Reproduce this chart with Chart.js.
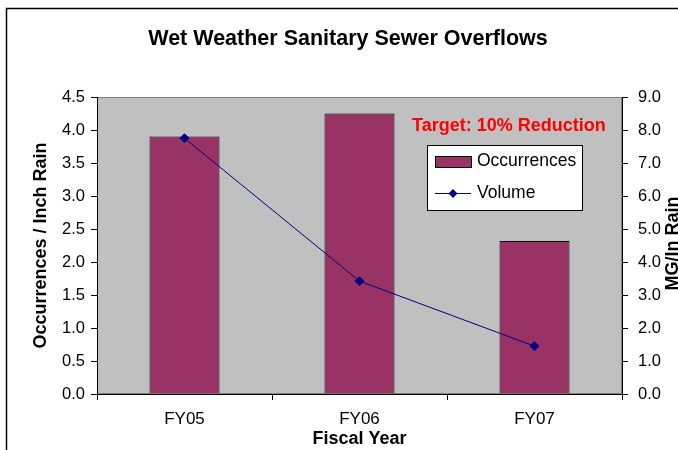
<!DOCTYPE html>
<html>
<head>
<meta charset="utf-8">
<script src="https://cdn.jsdelivr.net/npm/chart.js@4"></script>
<style>
  html, body { margin: 0; padding: 0; background: #fff; overflow: hidden; }
  #wrap { width: 678px; height: 450px; }
</style>
</head>
<body>
<div id="wrap"><canvas id="ssoChart" width="678" height="450"></canvas></div>
<script>
// values
const categories = ["FY05", "FY06", "FY07"];
const occurrences = [3.9, 4.25, 2.32];   // left axis, occurrences / inch rain
const volume = [7.75, 3.42, 1.45];       // right axis, MG / in rain

const chartTitle = "Wet Weather Sanitary Sewer Overflows";
const FONT = "'Liberation Sans', Arial, sans-serif";

// gray plot area + outer frame, title, legend and the red note
const decor = {
  id: "decor",
  beforeDraw(chart) {
    const { ctx, chartArea: a } = chart;
    ctx.save();
    ctx.fillStyle = "#fff";
    ctx.fillRect(0, 0, chart.width, chart.height);
    ctx.strokeStyle = "#000";
    ctx.lineWidth = 1.5;
    ctx.strokeRect(6.5, 8.5, chart.width + 20, chart.height + 20);
    ctx.fillStyle = "#C0C0C0";
    ctx.fillRect(a.left, a.top, a.right - a.left, a.bottom - a.top);
    ctx.strokeStyle = "#808080";
    ctx.lineWidth = 1;
    ctx.strokeRect(a.left + 0.5, a.top + 0.5, a.right - a.left - 1, a.bottom - a.top - 1);
    ctx.restore();
  },
  afterDraw(chart) {
    const { ctx, chartArea: a } = chart;
    const y1 = chart.scales.y1;
    ctx.save();

    // title (the original frame is a crop, so it sits a bit right of centre)
    ctx.fillStyle = "#000";
    ctx.font = "bold 21.5px " + FONT;
    ctx.textAlign = "center";
    ctx.textBaseline = "middle";
    ctx.fillText(chartTitle, 348, 39);

    // right axis title, reads bottom to top like the original
    ctx.translate(y1.right - 5, (a.top + a.bottom) / 2 - 2);
    ctx.rotate(-Math.PI / 2);
    ctx.font = "bold 18px " + FONT;
    ctx.fillText("MG/In Rain", 0, 0);
    ctx.setTransform(1, 0, 0, 1, 0, 0);

    // target note
    ctx.fillStyle = "#FF0000";
    ctx.font = "bold 18px " + FONT;
    ctx.textAlign = "left";
    ctx.fillText("Target: 10% Reduction", a.right - 210, a.top + 29);

    // legend box
    const lx = a.right - 195, ly = a.top + 48, lw = 155, lh = 65;
    ctx.fillStyle = "#fff";
    ctx.fillRect(lx, ly, lw, lh);
    ctx.strokeStyle = "#000";
    ctx.lineWidth = 1;
    ctx.strokeRect(lx + 0.5, ly + 0.5, lw, lh);

    const bar = chart.data.datasets[1];
    ctx.fillStyle = bar.backgroundColor;
    ctx.fillRect(lx + 8, ly + 11, 36, 11);
    ctx.strokeStyle = "#000";
    ctx.strokeRect(lx + 8.5, ly + 11.5, 36, 11);

    const line = chart.data.datasets[0];
    ctx.strokeStyle = line.borderColor;
    ctx.beginPath();
    ctx.moveTo(lx + 8, ly + 48.5);
    ctx.lineTo(lx + 44, ly + 48.5);
    ctx.stroke();
    ctx.fillStyle = line.pointBackgroundColor;
    ctx.beginPath();
    const cx = lx + 26, cy = ly + 48.5;
    ctx.moveTo(cx, cy - 4.5); ctx.lineTo(cx + 4.5, cy);
    ctx.lineTo(cx, cy + 4.5); ctx.lineTo(cx - 4.5, cy);
    ctx.closePath();
    ctx.fill();

    ctx.fillStyle = "#000";
    ctx.font = "17.5px " + FONT;
    ctx.fillText(bar.label, lx + 50, ly + 16);
    ctx.fillText(line.label, lx + 50, ly + 48);
    ctx.restore();
  }
};

const yTickFont = { family: FONT, size: 16.5 };
const xTickFont = { family: FONT, size: 17 };
const titleFont = { family: FONT, size: 18, weight: "bold", lineHeight: 1.2 };

new Chart(document.getElementById("ssoChart"), {
  data: {
    labels: categories,
    datasets: [{
      type: "line",
      label: "Volume",
      data: volume,
      yAxisID: "y1",
      borderColor: "#000080",
      borderWidth: 1,
      pointStyle: "rectRot",
      pointRadius: 4.5,
      pointBackgroundColor: "#000080",
      pointBorderColor: "#000080",
      tension: 0,
      order: 0
    }, {
      type: "bar",
      label: "Occurrences",
      data: occurrences,
      yAxisID: "y",
      backgroundColor: "#993366",
      borderColor: "#000",
      borderWidth: 1,
      barPercentage: 0.4,
      categoryPercentage: 1,
      order: 1
    }]
  },
  options: {
    responsive: false,
    animation: false,
    layout: { padding: { top: 97, left: 0, right: 0, bottom: 0 } },
    plugins: {
      legend: { display: false },
      tooltip: { enabled: false },
      title: { display: false }
    },
    scales: {
      x: {
        offset: true,
        grid: { display: true, offset: true, drawOnChartArea: false, tickLength: 6, color: "#000" },
        border: { color: "#000" },
        ticks: { color: "#000", font: xTickFont, padding: 9, maxRotation: 0 },
        title: { display: true, text: "Fiscal Year", color: "#000", font: titleFont, padding: { top: 0, bottom: 0 } },
        afterFit: s => { s.height = 56; }
      },
      y: {
        position: "left",
        min: 0, max: 4.5,
        grid: { drawOnChartArea: false, tickLength: 6, color: "#000" },
        border: { color: "#000" },
        ticks: { stepSize: 0.5, color: "#000", font: yTickFont, padding: 6, callback: v => v.toFixed(1) },
        title: { display: true, text: "Occurrences / Inch Rain", color: "#000", font: titleFont, padding: { top: 30, bottom: 0 } },
        afterFit: s => { s.width = 97; }
      },
      y1: {
        position: "right",
        min: 0, max: 9,
        grid: { drawOnChartArea: false, tickLength: 6, color: "#000" },
        border: { color: "#000" },
        ticks: { stepSize: 1, color: "#000", font: yTickFont, padding: 10, callback: v => v.toFixed(1) },
        afterFit: s => { s.width = 56; }
      }
    }
  },
  plugins: [decor]
});
</script>
</body>
</html>
